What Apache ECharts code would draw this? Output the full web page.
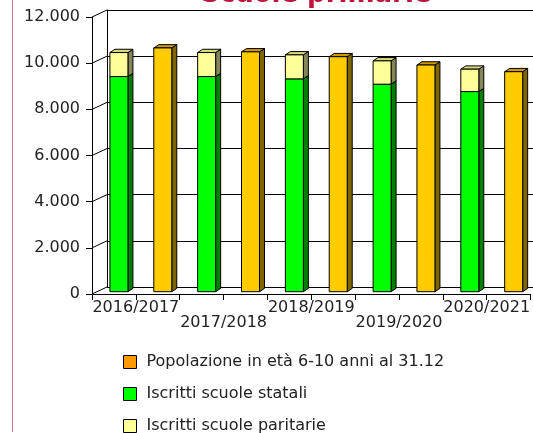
<!DOCTYPE html>
<html>
<head>
<meta charset="utf-8">
<script src="https://cdn.jsdelivr.net/npm/echarts@6/dist/echarts.min.js"></script>
<style>
  html, body { margin: 0; padding: 0; background: #fff; }
  #wrap { position: relative; width: 533px; height: 433px; }
  #edge { position: absolute; left: 12px; top: 0; width: 1px; height: 432px; background: #d07886; }
  #chart { position: absolute; left: 0; top: 0; width: 533px; height: 433px; }
</style>
</head>
<body>
<div id="wrap">
  <div id="edge"></div>
  <div id="chart"></div>
</div>
<script>
const anni = ['2016/2017', '2017/2018', '2018/2019', '2019/2020', '2020/2021'];
const popolazione = [10560, 10390, 10180, 9820, 9530];
const statali = [9320, 9320, 9220, 8990, 8670];
const paritarie = [1040, 1040, 1040, 1010, 970];
const yTicks = [0, 2000, 4000, 6000, 8000, 10000, 12000];

const FONT = 'DejaVu Sans';
const DX = 15, DY = -7;          // profondità della parete di fondo
const BW = 18, BDX = 5, BDY = -3.3; // larghezza e profondità barre
const OFF_X = 5, OFF_Y = -2.3;   // faccia frontale delle barre

function fmt(v) {
  return String(v).replace(/\B(?=(\d{3})+(?!\d))/g, '.');
}

function bar3d(side, front, lato, cima) {
  return function (params, api) {
    const i = api.value(0);
    const top = api.coord([i, api.value(1)]);
    const bot = api.coord([i, api.value(2)]);
    const cw = api.size([1, 0])[0];
    const x0 = top[0] + side * cw / 4 - BW / 2 + OFF_X;
    const yT = top[1] + OFF_Y;
    const yB = bot[1] + OFF_Y;
    const line = { stroke: '#000', lineWidth: 1 };
    return {
      type: 'group',
      children: [
        { type: 'polygon', shape: { points: [[x0 + BW, yT], [x0 + BW + BDX, yT + BDY], [x0 + BW + BDX, yB + BDY], [x0 + BW, yB]] },
          style: Object.assign({ fill: lato }, line) },
        { type: 'polygon', shape: { points: [[x0, yT], [x0 + BDX, yT + BDY], [x0 + BW + BDX, yT + BDY], [x0 + BW, yT]] },
          style: Object.assign({ fill: cima }, line) },
        { type: 'rect', shape: { x: x0, y: yT, width: BW, height: yB - yT },
          style: Object.assign({ fill: front }, line) }
      ]
    };
  };
}

const chart = echarts.init(document.getElementById('chart'));
chart.setOption({
  animation: false,
  title: {
    text: 'Scuole primarie',
    left: 196,
    top: -23,
    textStyle: { fontFamily: FONT, fontSize: 26, fontWeight: 'bold', color: '#c0143c' }
  },
  legend: {
    orient: 'vertical',
    left: 123,
    top: 354,
    height: 120,
    padding: 0,
    itemWidth: 13,
    itemHeight: 13,
    itemGap: 16,
    icon: 'rect',
    itemStyle: { borderColor: '#000', borderWidth: 1 },
    textStyle: { fontFamily: FONT, fontSize: 16, color: '#222', padding: [0, 0, 0, 5] },
    data: ['Popolazione in età 6-10 anni al 31.12', 'Iscritti scuole statali', 'Iscritti scuole paritarie']
  },
  grid: [
    { left: 92, right: 1, top: 17, bottom: 139 },
    { left: 92 + DX, right: 0, top: 17 + DY, bottom: 139 - DY }
  ],
  xAxis: [
    {
      type: 'category', gridIndex: 0, data: anni,
      axisLine: { lineStyle: { color: '#000', width: 1 } },
      axisTick: { show: false },
      axisLabel: {
        fontFamily: FONT, fontSize: 16, color: '#222', margin: 7, lineHeight: 14.5,
        interval: 0,
        formatter: (v, i) => (i % 2 ? '\n' + v : v)
      }
    },
    {
      type: 'value', gridIndex: 0, min: 0, max: 10, interval: 1, position: 'bottom',
      axisLine: { show: false },
      axisTick: { show: true, length: 6, lineStyle: { color: '#000' } },
      axisLabel: { show: false },
      splitLine: { show: false }
    },
    { type: 'value', gridIndex: 1, show: false, min: 0, max: 1 }
  ],
  yAxis: [
    {
      type: 'value', gridIndex: 0, min: 0, max: 12000, interval: 2000,
      axisLine: { show: true, lineStyle: { color: '#000' } },
      axisTick: { show: true, length: 6, lineStyle: { color: '#000' } },
      axisLabel: { fontFamily: FONT, fontSize: 16, color: '#222', margin: 12, formatter: fmt },
      splitLine: { show: false }
    },
    {
      type: 'value', gridIndex: 1, min: 0, max: 12000, interval: 2000,
      axisLine: { show: true, lineStyle: { color: '#000' } },
      axisTick: { show: false },
      axisLabel: { show: false },
      splitLine: { show: true, lineStyle: { color: '#000', width: 1 } }
    }
  ],
  series: [
    {
      type: 'custom', name: 'prospettiva', xAxisIndex: 0, yAxisIndex: 0, silent: true,
      data: yTicks.map(v => [0, v]),
      renderItem: function (params, api) {
        const p = api.coord([0, api.value(1)]);
        const x = params.coordSys.x;
        return { type: 'line', shape: { x1: x, y1: p[1], x2: x + DX, y2: p[1] + DY },
          style: { stroke: '#000', lineWidth: 1 } };
      }
    },
    {
      type: 'custom', name: 'Iscritti scuole statali', xAxisIndex: 0, yAxisIndex: 0,
      itemStyle: { color: '#00ff00' },
      data: anni.map((a, i) => [i, statali[i], 0]),
      encode: { x: 0, y: 1 },
      renderItem: bar3d(-1, '#00ff00', '#008000', '#00a000')
    },
    {
      type: 'custom', name: 'Iscritti scuole paritarie', xAxisIndex: 0, yAxisIndex: 0,
      itemStyle: { color: '#ffff99' },
      data: anni.map((a, i) => [i, statali[i] + paritarie[i], statali[i]]),
      encode: { x: 0, y: 1 },
      renderItem: bar3d(-1, '#ffff99', '#85855a', '#d8d880')
    },
    {
      type: 'custom', name: 'Popolazione in età 6-10 anni al 31.12', xAxisIndex: 0, yAxisIndex: 0,
      itemStyle: { color: '#ff9900' },
      data: anni.map((a, i) => [i, popolazione[i], 0]),
      encode: { x: 0, y: 1 },
      renderItem: bar3d(1, '#ffcc00', '#806600', '#cc9900')
    }
  ]
});
</script>
</body>
</html>
